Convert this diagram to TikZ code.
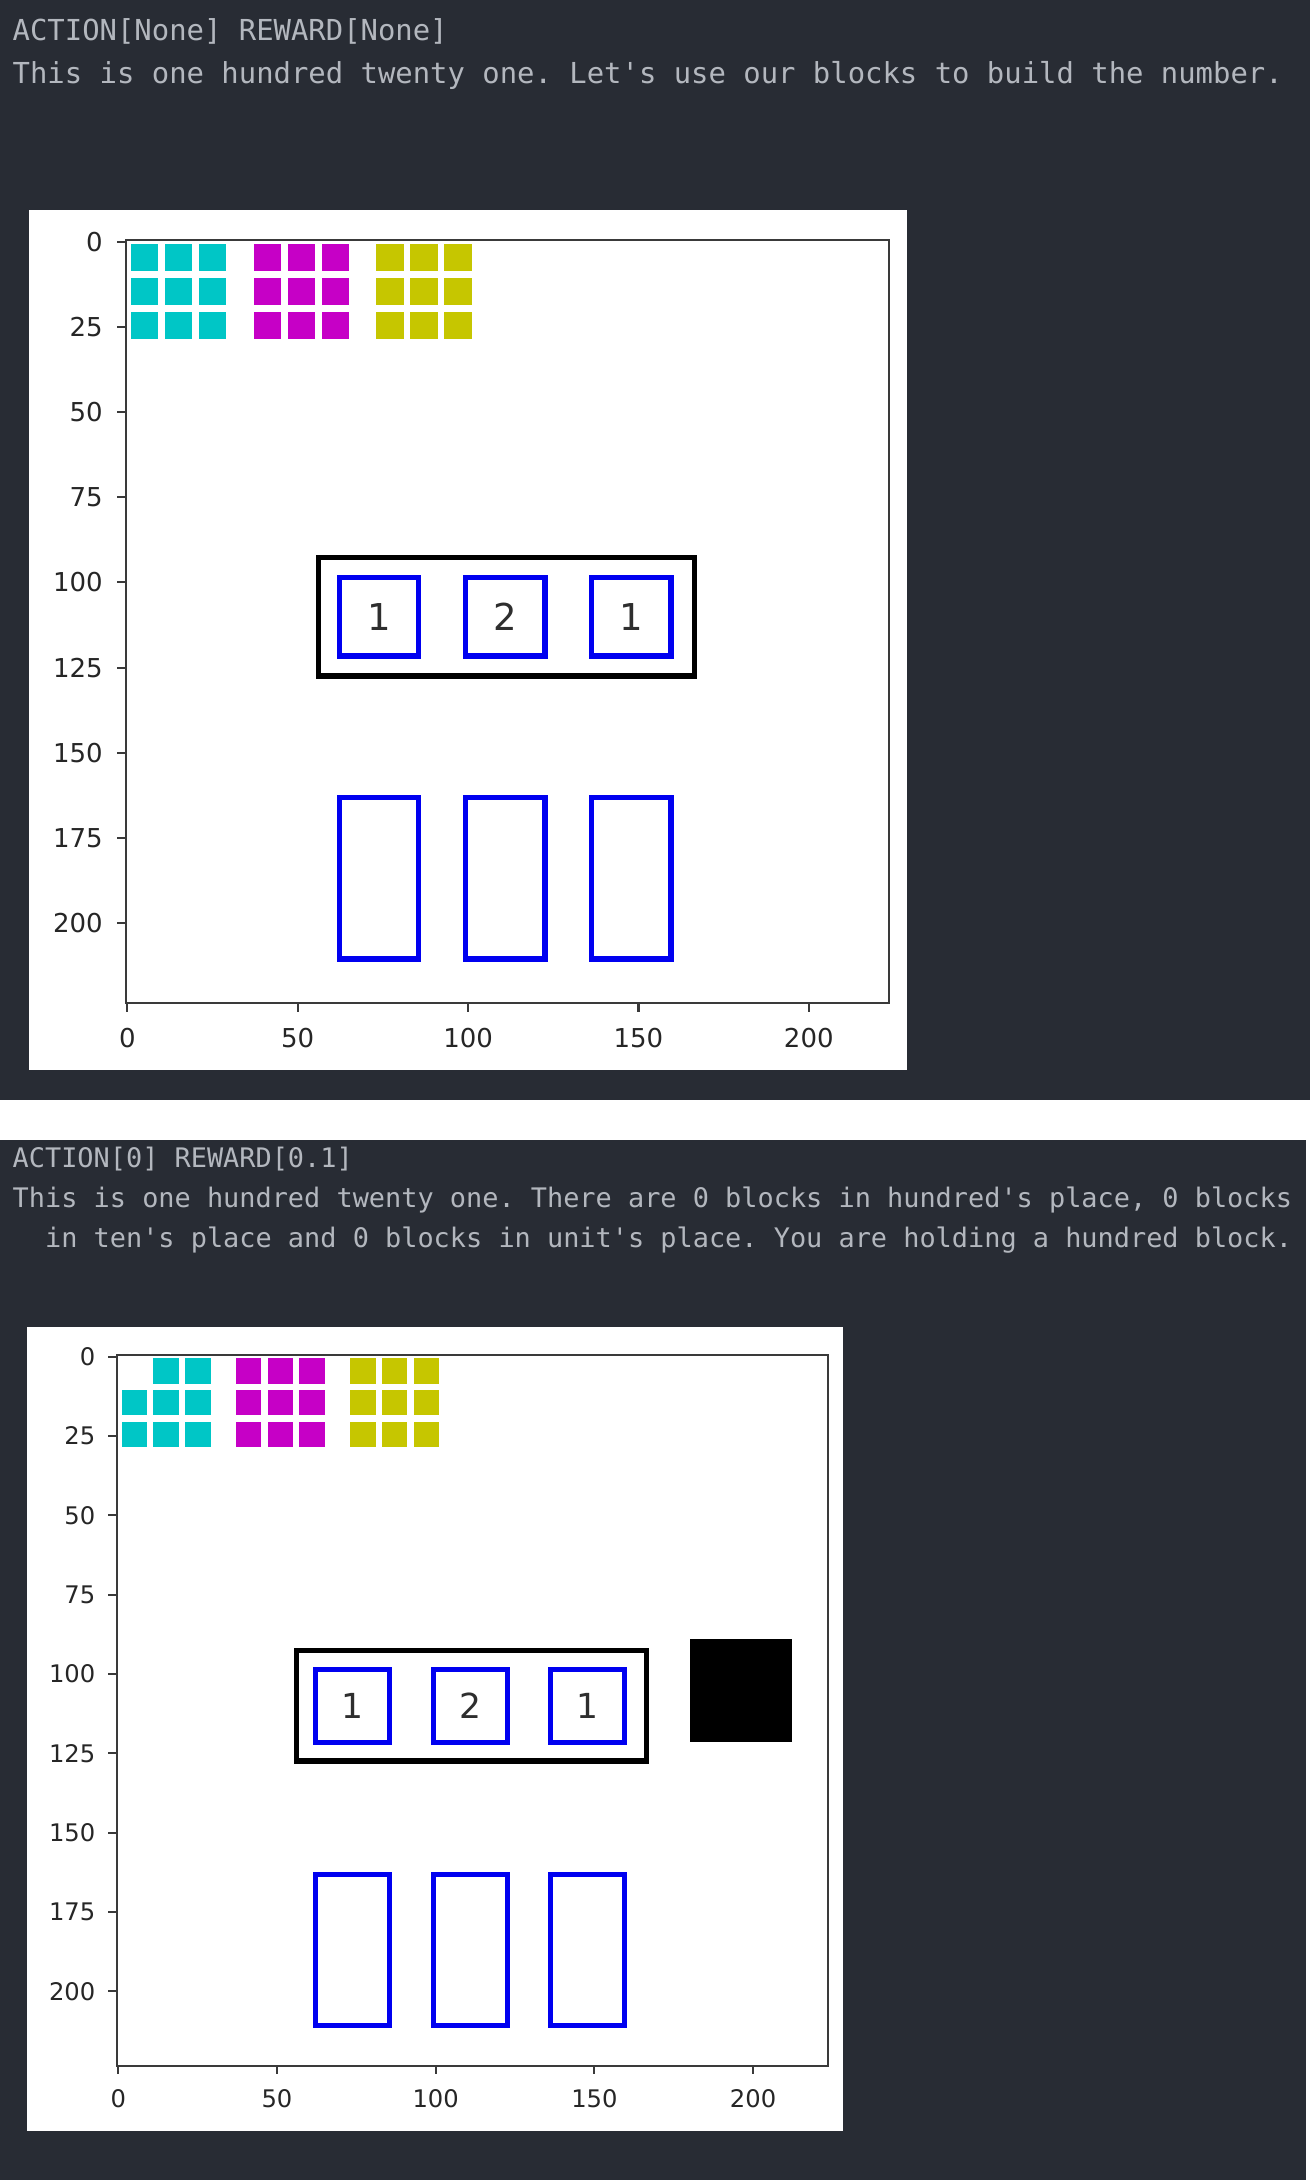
\documentclass[tikz,border=0pt]{standalone}
\usepackage{fontspec}
\setmonofont{DejaVu Sans Mono}
\setsansfont{DejaVu Sans}
\definecolor{bgdark}{HTML}{282C34}
\definecolor{termtext}{HTML}{B3B7BE}
\definecolor{cblk}{HTML}{00C6C6}
\definecolor{mblk}{HTML}{C600C6}
\definecolor{yblk}{HTML}{C6C600}
\definecolor{slotblue}{HTML}{0000F0}
\definecolor{ticktext}{HTML}{262626}
\definecolor{spinec}{HTML}{3A3A3A}
\definecolor{digitc}{HTML}{2E2E2E}
\tikzset{
  termline/.style={text=termtext, inner sep=0pt, anchor=base west},
  ticklab/.style={text=ticktext, inner sep=0pt},
  slotbox/.style={draw=slotblue},
  framebox/.style={draw=black},
  digitlab/.style={text=digitc, inner sep=0pt, anchor=center},
}
% #1 = relative scale, #2 = name prefix
\newcommand\boardbase[2]{%
  \pgfmathsetmacro\lw{5.5*#1}%
  \pgfmathsetmacro\spw{2.1*#1}%
  \pgfmathsetmacro\tl{9*#1}%
  \pgfmathsetmacro\gapy{13*#1}%
  \pgfmathsetmacro\gapx{15*#1}%
  \pgfmathsetmacro\tfs{26*#1}%
  \pgfmathsetmacro\dfs{37*#1}%
  % axes frame
  \draw[spinec, line width=\spw pt] (-0.5,-0.5) rectangle (223.5,223.5);
  \foreach \v in {0,25,...,200}{
    \draw[spinec, line width=\spw pt] (-0.5,\v) -- ++(-\tl pt,0)
      node[ticklab, anchor=east, xshift=-\gapy pt, font=\sffamily\fontsize{\tfs}{\tfs}\selectfont] (#2y\v) {\v};
  }
  \foreach \v in {0,50,...,200}{
    \draw[spinec, line width=\spw pt] (\v,223.5) -- ++(0,-\tl pt)
      node[ticklab, anchor=north, yshift=-\gapx pt, font=\sffamily\fontsize{\tfs}{\tfs}\selectfont] (#2x\v) {\v};
  }
  % cyan blocks (except top-left one)
  \foreach \c/\r in {1/0,2/0,0/1,1/1,2/1,0/2,1/2,2/2}{
    \fill[cblk] (10*\c+1.05,10*\r+0.55) rectangle ++(8,8);
  }
  \foreach \c in {0,1,2}{
    \foreach \r in {0,1,2}{
      \fill[mblk] (36+10*\c+1.05,10*\r+0.55) rectangle ++(8,8);
      \fill[yblk] (72+10*\c+1.05,10*\r+0.55) rectangle ++(8,8);
    }
  }
  % number frame
  \draw[framebox, line width=\lw pt] (56.1,92.7) rectangle (166.4,127.4);
  \foreach \k/\d in {0/1,1/2,2/1}{
    \draw[slotbox, line width=\lw pt] (62.2+37*\k,98.5) rectangle (85.5+37*\k,121.6);
    \node[digitlab, font=\sffamily\fontsize{\dfs}{\dfs}\selectfont] (#2d\k) at (73.85+37*\k,110.05) {\d};
    \draw[slotbox, line width=\lw pt] (62.2+37*\k,163.1) rectangle (85.5+37*\k,210.6);
  }
}
\begin{document}
\begin{tikzpicture}[x=1pt,y=-1pt]
  \fill[white] (0,0) rectangle (1312,2180);
  \useasboundingbox (0,0) rectangle (1312,2180);
  % ---------- panel 1 ----------
  \fill[bgdark] (0,0) rectangle (1310,1100);
  \node[termline, font=\ttfamily\fontsize{28.9}{34}\selectfont] (p1a) at (12.5,40.5) {ACTION[None] REWARD[None]};
  \node[termline, font=\ttfamily\fontsize{28.9}{34}\selectfont] (p1b) at (12.5,83.7) {This is one hundred twenty one. Let's use our blocks to build the number.};
  \fill[white] (29.3,210) rectangle (907,1070);
  \begin{scope}[shift={(127.4pt,-241.7pt)}, x=3.407pt, y=-3.407pt]
    \boardbase{1}{pa}
    \fill[cblk] (1.05,0.55) rectangle ++(8,8);
  \end{scope}
  % ---------- panel 2 ----------
  \fill[bgdark] (0,1140) rectangle (1306,2180);
  \node[termline, font=\ttfamily\fontsize{26.9}{32}\selectfont] (p2a) at (12.5,1167) {ACTION[0] REWARD[0.1]};
  \node[termline, font=\ttfamily\fontsize{26.9}{32}\selectfont] (p2b) at (12.5,1207) {This is one hundred twenty one. There are 0 blocks in hundred's place, 0 blocks};
  \node[termline, font=\ttfamily\fontsize{26.9}{32}\selectfont] (p2c) at (12.5,1247) {\phantom{xx}in ten's place and 0 blocks in unit's place. You are holding a hundred block.};
  \fill[white] (26.7,1327) rectangle (842.7,2131);
  \begin{scope}[shift={(118.3pt,-1356.6pt)}, x=3.174pt, y=-3.174pt]
    \boardbase{0.9316}{pb}
    \fill[black] (180,89) rectangle (212.2,121.3);
  \end{scope}
\end{tikzpicture}
\end{document}
